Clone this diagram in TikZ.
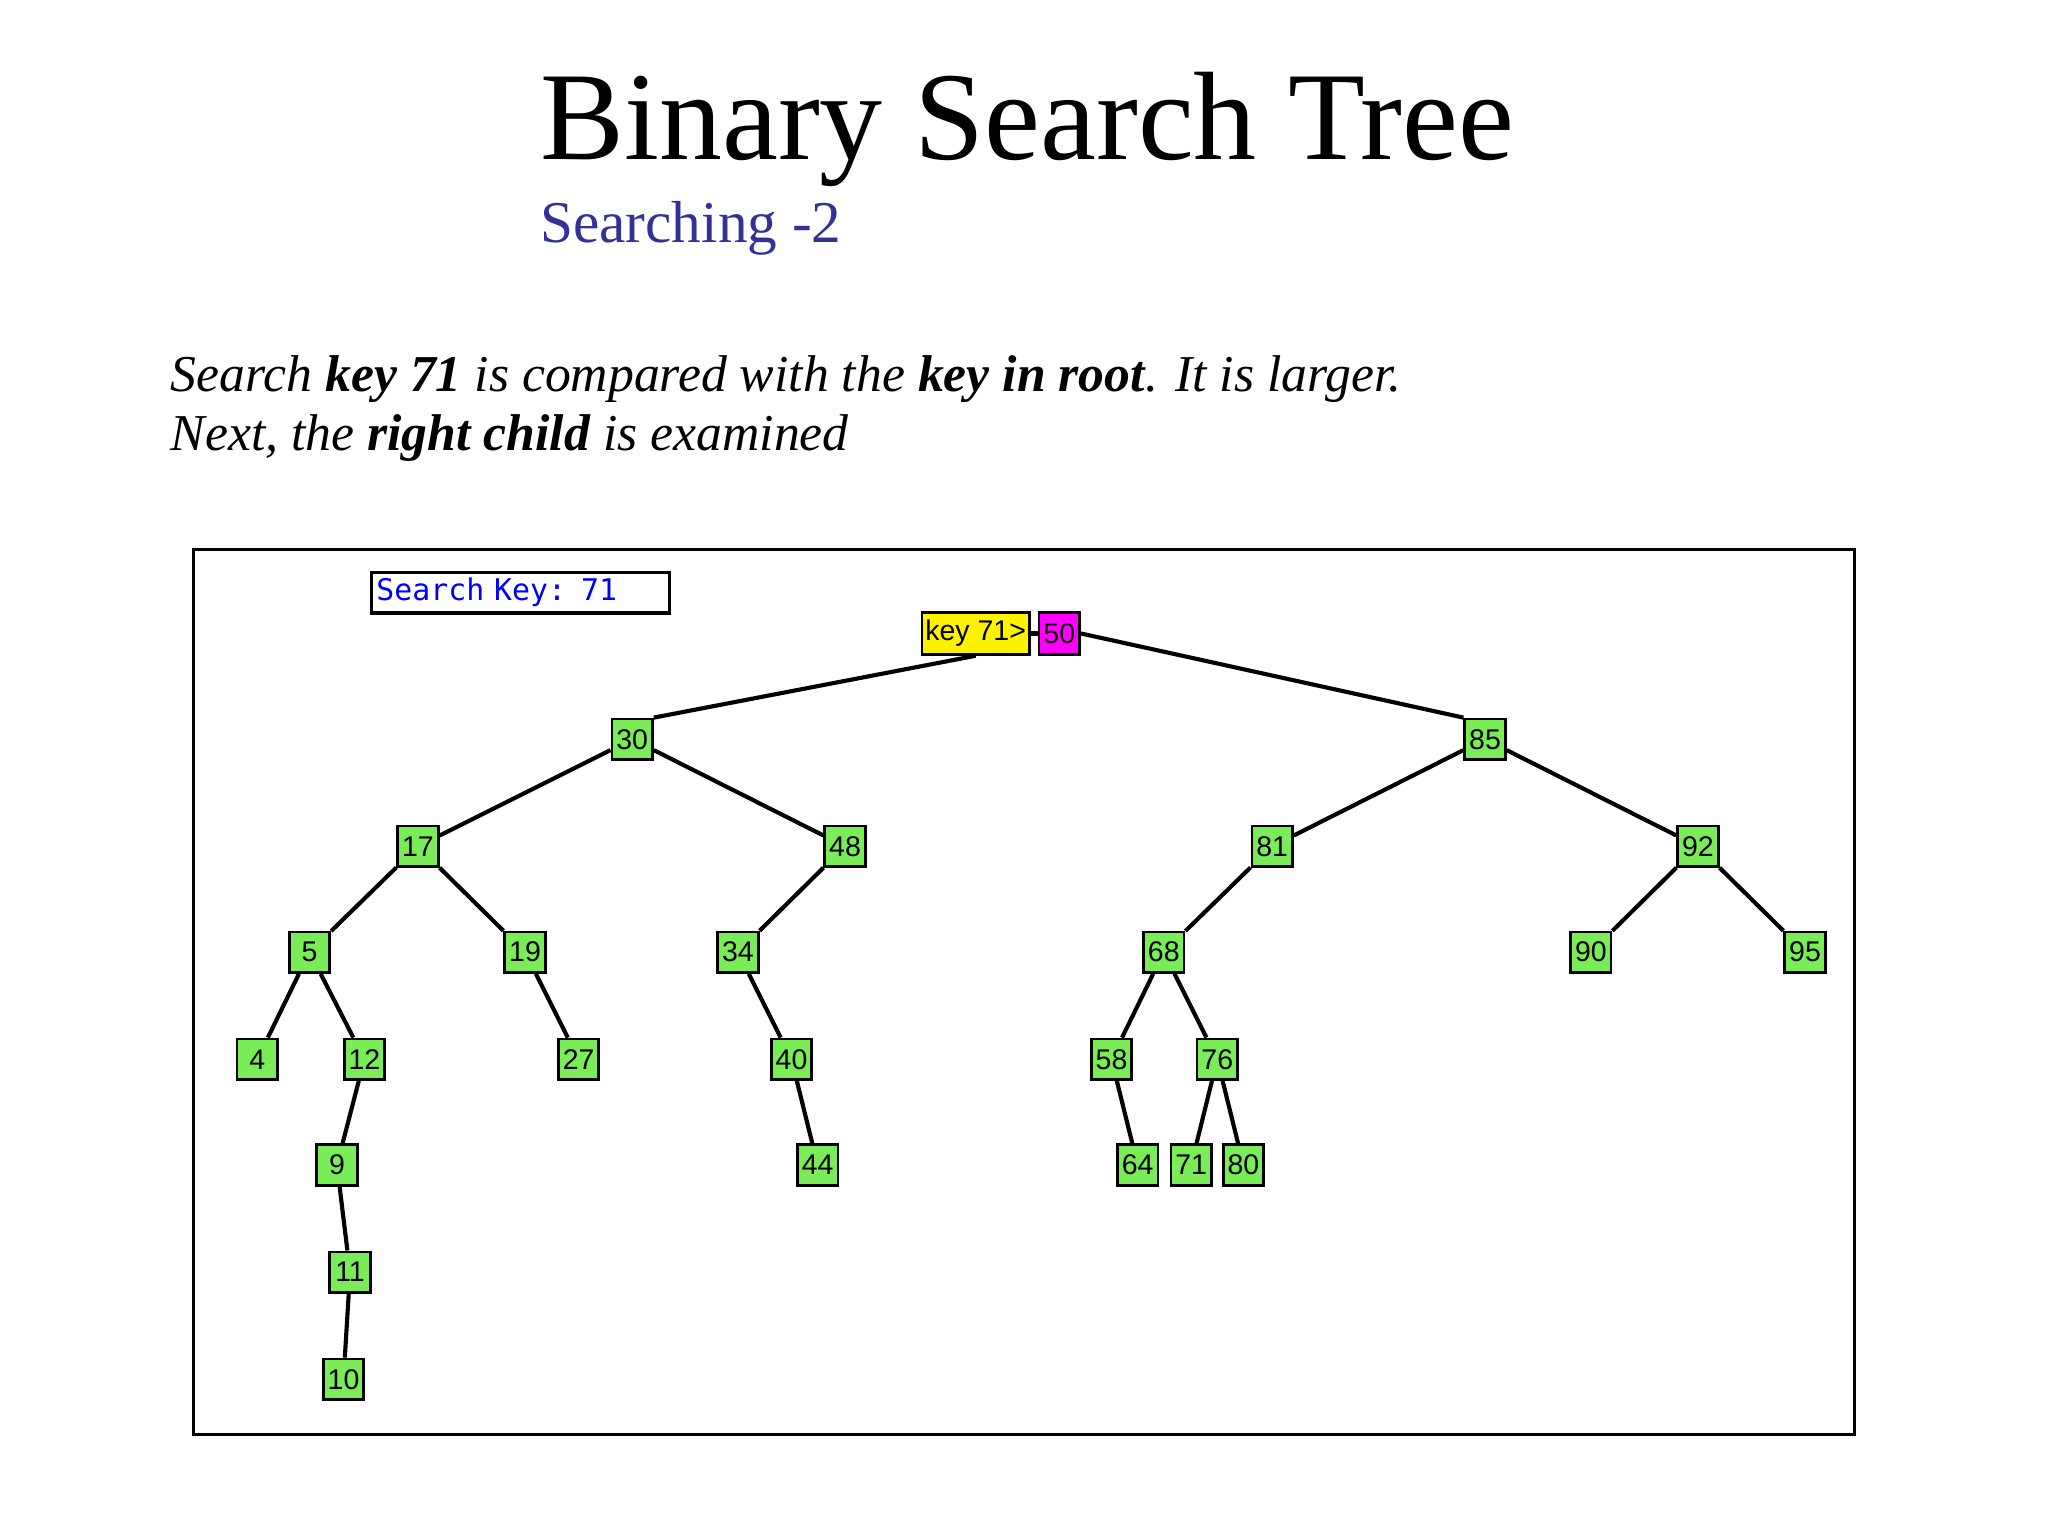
\documentclass[tikz,border=0pt]{standalone}
\usepackage{fontspec}
\setmainfont{Liberation Serif}
\newfontfamily\sansf{Liberation Sans}
\newfontfamily\monof{DejaVu Sans Mono}
\definecolor{ngreen}{RGB}{122,236,88}
\definecolor{subblue}{RGB}{50,50,150}
\definecolor{mag}{RGB}{255,0,255}
\begin{document}
\begin{tikzpicture}[x=0.01cm,y=-0.01cm,
  bn/.style={draw=black,line width=0.6pt,fill=ngreen,minimum width=0.31cm,minimum height=0.31cm,inner sep=0pt,font=\sansf\fontsize{6.2}{7}\selectfont},
  edge/.style={line width=0.9pt}]
\useasboundingbox (0,0) rectangle (1568,1176);
\node[anchor=base west,inner sep=0pt,font=\fontsize{27.4}{32}\selectfont] (title) at (413,122) {Binary Search Tree};
\node[anchor=base west,inner sep=0pt,font=\fontsize{12.9}{16}\selectfont,text=subblue] (sub) at (413,186) {Searching -2};
\node[anchor=base west,inner sep=0pt,font=\fontsize{11.26}{14}\selectfont\itshape] (l1) at (130,300) {Search \textbf{key 71} is compared with the \textbf{key in root}. It is larger.};
\node[anchor=base west,inner sep=0pt,font=\fontsize{11.26}{14}\selectfont\itshape] (l2) at (130,345) {Next, the \textbf{right child} is examined};
\draw[line width=0.7pt] (148,421) rectangle (1420,1098);
\node[draw,line width=0.7pt,minimum width=2.28cm,minimum height=0.31cm,inner sep=1pt,anchor=north west,text=blue,font=\monof\fontsize{6.5}{7}\selectfont,align=left,text width=2.2cm] (sk) at (283,437) {Search Key: 71};
\node[draw,line width=0.6pt,fill=yellow,minimum width=0.82cm,minimum height=0.32cm,inner sep=0pt,font=\sansf\fontsize{6.2}{7}\selectfont] (key) at (747,485) {key 71>};
\node[bn,fill=mag,minimum height=0.32cm] (n50) at (811,485) {50};
\foreach \n/\x/\y in {30/484/566,85/1137/566,17/320/648,48/647/648,81/974/648,92/1300/648,
  5/237/729,19/402/729,34/565/729,68/891/729,90/1218/729,95/1382/729,
  4/197/811,12/279/811,27/443/811,40/606/811,58/851/811,76/932/811,
  9/258/892,44/626/892,64/871/892,71/912/892,80/952/892,11/268/974,10/263/1056}
  \node[bn] (n\n) at (\x,\y) {\n};
\draw[edge] (key) -- (n50);
\draw[edge] (key.south) -- (n30.north east);
\draw[edge] (n50.east) -- (n85.north west);
\foreach \a/\b in {30/17,30/48,85/81,85/92,17/5,17/19,48/34,81/68,92/90,92/95,
  5/4,5/12,19/27,34/40,68/58,68/76,12/9,40/44,58/64,76/71,76/80,9/11,11/10}
  \draw[edge] (n\a) -- (n\b);
\end{tikzpicture}
\end{document}
